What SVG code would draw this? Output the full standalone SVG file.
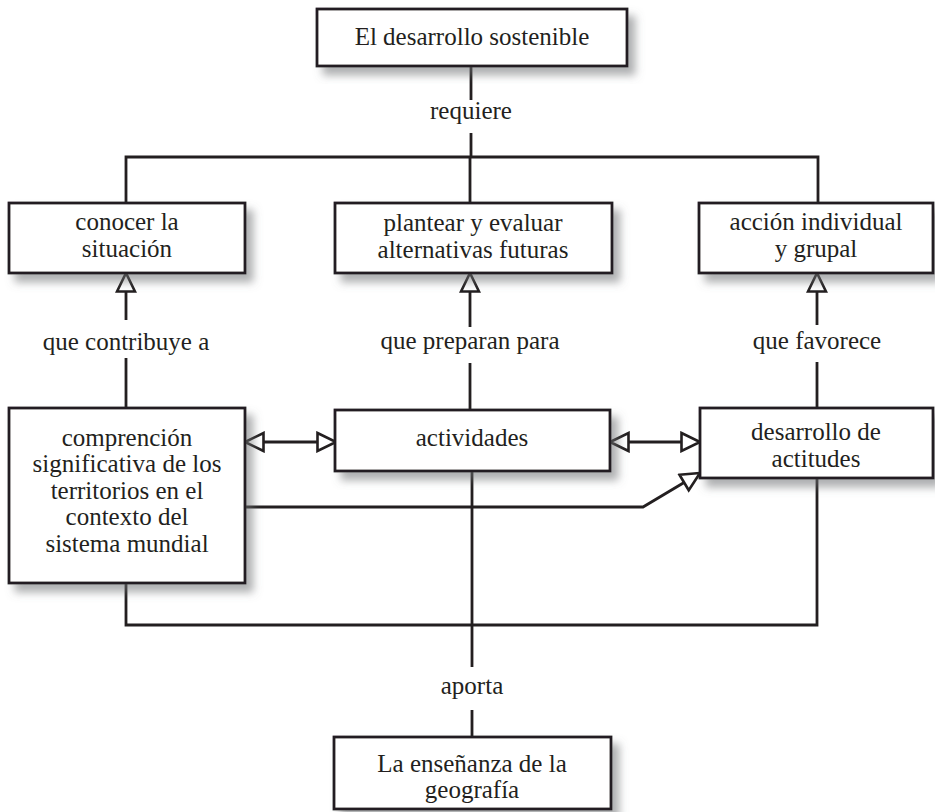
<svg xmlns="http://www.w3.org/2000/svg" width="935" height="812" viewBox="0 0 935 812">
<defs>
<filter id="sh" x="-10%" y="-10%" width="130%" height="140%">
<feDropShadow dx="7" dy="8" stdDeviation="4" flood-color="#6d6e71" flood-opacity="0.55"/>
</filter>
<marker id="tri" viewBox="0 0 22 22" refX="20.5" refY="11" markerWidth="22" markerHeight="22" markerUnits="userSpaceOnUse" orient="auto-start-reverse">
<path d="M2,2 L20.5,11 L2,20 Z" fill="#fff" stroke="#231f20" stroke-width="2.6" stroke-linejoin="miter"/>
</marker>
</defs>
<style>
.box{fill:#fff;stroke:#231f20;stroke-width:2.8;filter:url(#sh)}
.ln{fill:none;stroke:#231f20;stroke-width:2.8}
text{font-family:'Liberation Serif','Times New Roman','DejaVu Serif',serif;font-size:25px;fill:#231f20;text-anchor:middle}
</style>
<rect width="935" height="812" fill="#fff"/>
<g id="connectors">
<path class="ln" d="M471,66 V100 M471,133 V157 M126,203 V157 H818 V203 M470,157 V203"/>
<path class="ln" d="M126,408 V358"/>
<path class="ln" d="M126,320 V273" marker-end="url(#tri)"/>
<path class="ln" d="M470,410 V363"/>
<path class="ln" d="M470,327 V273" marker-end="url(#tri)"/>
<path class="ln" d="M817,408 V362"/>
<path class="ln" d="M817,325 V273" marker-end="url(#tri)"/>
<path class="ln" d="M245,442 H336" marker-start="url(#tri)" marker-end="url(#tri)"/>
<path class="ln" d="M610,442 H700" marker-start="url(#tri)" marker-end="url(#tri)"/>
<path class="ln" d="M245,507 H643 L700,473" marker-end="url(#tri)"/>
<path class="ln" d="M126,583 V625 H817 V478 M472,471 V667 M472,710 V737"/>
<text x="471" y="119">requiere</text>
<text x="126" y="350">que contribuye a</text>
<text x="470" y="349">que preparan para</text>
<text x="817" y="349">que favorece</text>
<text x="472" y="694">aporta</text>
</g>
<g id="n-desarrollo-sostenible">
<rect class="box" x="317" y="9" width="310" height="57"/>
<text x="472" y="45">El desarrollo sostenible</text>
</g>
<g id="n-conocer">
<rect class="box" x="9" y="203" width="236" height="70"/>
<text x="127" y="230">conocer la</text>
<text x="127" y="257">situación</text>
</g>
<g id="n-plantear">
<rect class="box" x="335" y="203" width="277" height="70"/>
<text x="473" y="231">plantear y evaluar</text>
<text x="473" y="258">alternativas futuras</text>
</g>
<g id="n-accion">
<rect class="box" x="699" y="203" width="234" height="70"/>
<text x="816" y="230">acción individual</text>
<text x="816" y="257">y grupal</text>
</g>
<g id="n-comprencion">
<rect class="box" x="9" y="408" width="236" height="175"/>
<text x="127" y="446">comprención</text>
<text x="127" y="472">significativa de los</text>
<text x="127" y="499">territorios en el</text>
<text x="127" y="525">contexto del</text>
<text x="127" y="552">sistema mundial</text>
</g>
<g id="n-actividades">
<rect class="box" x="335" y="410" width="275" height="61"/>
<text x="472" y="446">actividades</text>
</g>
<g id="n-actitudes">
<rect class="box" x="700" y="408" width="233" height="70"/>
<text x="816" y="440">desarrollo de</text>
<text x="816" y="467">actitudes</text>
</g>
<g id="n-ensenanza">
<rect class="box" x="334" y="737" width="277" height="72"/>
<text x="472" y="772">La enseñanza de la</text>
<text x="472" y="798">geografía</text>
</g>
</svg>
